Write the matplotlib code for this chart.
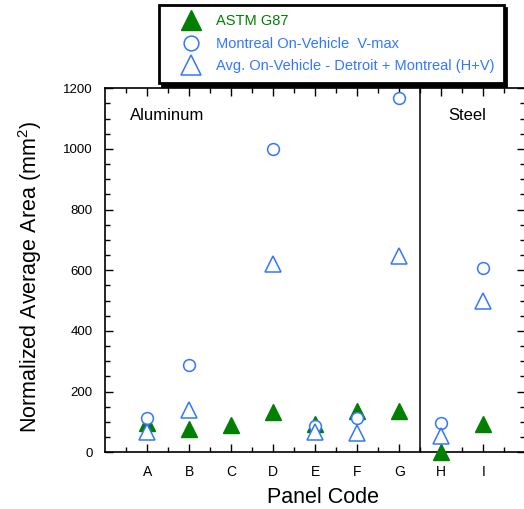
import numpy as np
import matplotlib.pyplot as plt
from matplotlib.ticker import MultipleLocator, FixedLocator

plt.rcParams['font.family'] = ['Liberation Sans', 'DejaVu Sans']
plt.rcParams['mathtext.fontset'] = 'custom'
plt.rcParams['mathtext.rm'] = 'Liberation Sans'

panels = ['A', 'B', 'C', 'D', 'E', 'F', 'G', 'H', 'I']
astm_g87 = [96, 78, 90, 133, 93, 136, 135, 0, 93]
montreal_vmax = [112, 288, None, 1000, 87, 112, 1169, 98, 609]
avg_on_vehicle = [68, 138, None, 622, 66, 62, 648, 55, 498]

green = '#007F00'
blue = '#3377FF'

x = np.arange(1, len(panels) + 1)

fig = plt.figure(figsize=(5.24, 5.09), dpi=100)
ax = fig.add_axes([0.201, 0.1114, 0.8015, 0.7151])

ax.plot(x, astm_g87, linestyle='none', marker='^', markersize=11,
        color=green, clip_on=False, zorder=3, label='ASTM G87')
vm = np.array([np.nan if v is None else v for v in montreal_vmax], float)
av = np.array([np.nan if v is None else v for v in avg_on_vehicle], float)
ax.plot(x, vm, linestyle='none', marker='o', markersize=8.5,
        markerfacecolor='white', markeredgecolor=blue, markeredgewidth=1.1,
        clip_on=False, zorder=4, label='Montreal On-Vehicle  V-max')
ax.plot(x, av, linestyle='none', marker='^', markersize=11,
        markerfacecolor='white', markeredgecolor=blue, markeredgewidth=1.1,
        clip_on=False, zorder=5,
        label='Avg. On-Vehicle - Detroit + Montreal (H+V)')

ax.axvline(7.5, color='black', linewidth=1.1)

ax.set_xlim(0, 10)
ax.set_ylim(0, 1200)
ax.xaxis.set_major_locator(FixedLocator(x))
ax.set_xticklabels(panels)
ax.xaxis.set_minor_locator(FixedLocator(np.arange(0.5, 10, 1.0)))
ax.yaxis.set_major_locator(MultipleLocator(200))
ax.yaxis.set_minor_locator(MultipleLocator(50))
ax.tick_params(which='both', direction='in', top=True, right=True,
               width=1.0)
ax.tick_params(which='major', length=6)
ax.tick_params(which='minor', length=3.5)
ax.tick_params(axis='x', which='major', labelsize=10, pad=9)
ax.tick_params(axis='y', which='major', labelsize=9.5, pad=9)
for s in ax.spines.values():
    s.set_linewidth(1.2)

ax.set_xlabel('Panel Code', fontsize=15.5)
ax.xaxis.set_label_coords(0.519, -0.095)
ax.set_ylabel(r'Normalized Average Area (mm$^2$)', fontsize=15.5)
ax.yaxis.set_label_coords(-0.147, 0.482)

ax.text(0.59, 1109, 'Aluminum', fontsize=12, va='center', ha='left')
ax.text(8.16, 1112, 'Steel', fontsize=12, va='center', ha='left')

leg = fig.legend(loc='upper left', bbox_to_anchor=(0.3034, 0.9902),
                 borderaxespad=0, fontsize=10.5, markerscale=1.25,
                 handlelength=3.05, handletextpad=0.18, borderpad=0.65,
                 labelspacing=0.58, fancybox=False, edgecolor='black',
                 framealpha=1,
                 shadow={'facecolor': 'black', 'edgecolor': 'black',
                         'alpha': 1},
                 labelcolor=[green, blue, blue])
leg.get_frame().set_linewidth(2)

fig.savefig('out.png', dpi=100)
